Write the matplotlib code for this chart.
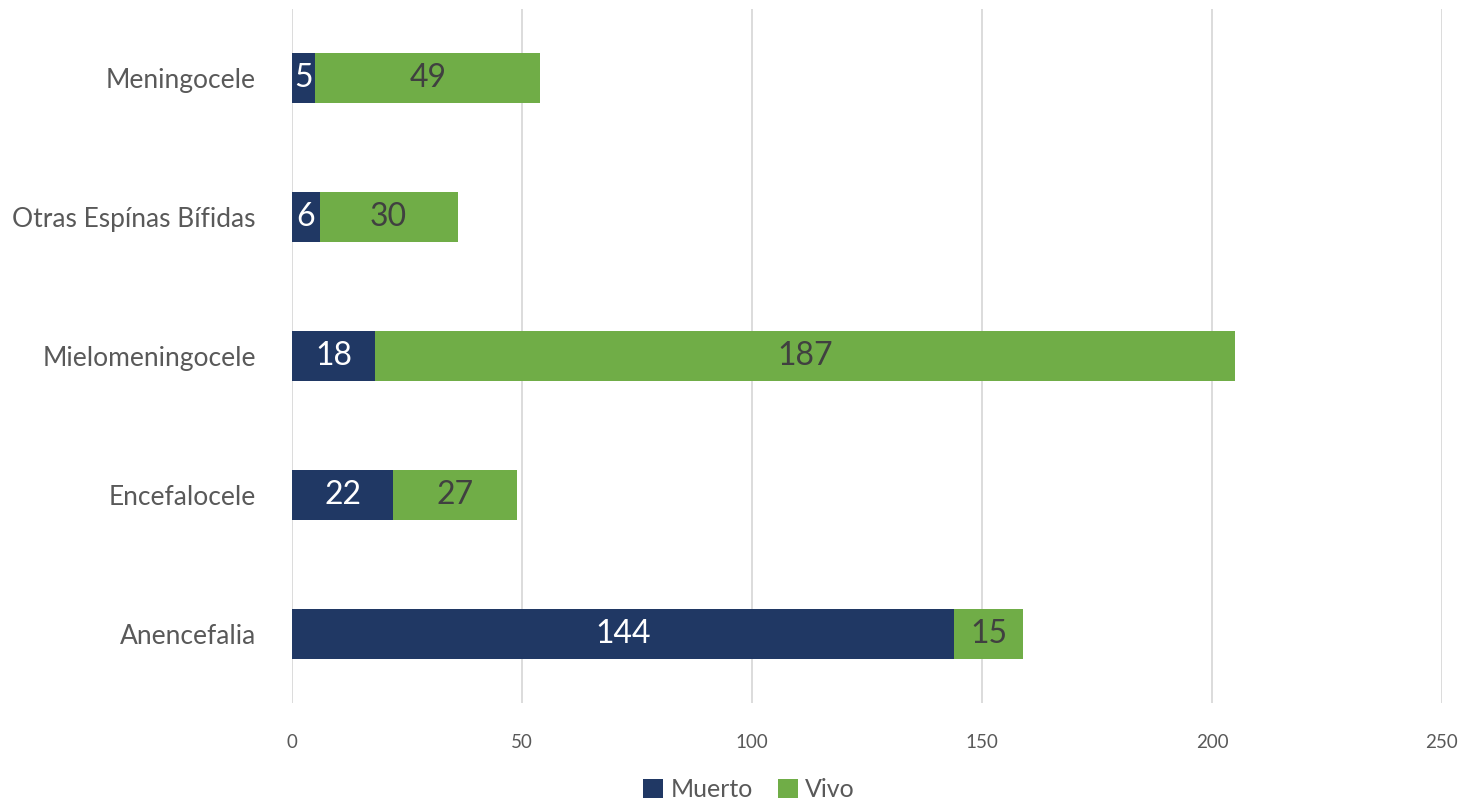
import matplotlib
matplotlib.use("Agg")
import matplotlib.pyplot as plt

categories = ["Anencefalia", "Encefalocele", "Mielomeningocele", "Otras Espínas Bífidas", "Meningocele"]
muerto = [144, 22, 18, 6, 5]
vivo = [15, 27, 187, 30, 49]
xticks = [0, 50, 100, 150, 200, 250]

plt.rcParams['font.family'] = ['Lato', 'DejaVu Sans']

fig = plt.figure(figsize=(14.63, 8.02), dpi=100)
ax = fig.add_axes([0.1996, 0.123, 0.786, 0.866])

c_m = "#203864"
c_v = "#70AD47"
y = list(range(len(categories)))
h = 0.36
b1 = ax.barh(y, muerto, height=h, color=c_m, label="Muerto")
b2 = ax.barh(y, vivo, left=muerto, height=h, color=c_v, label="Vivo")

for rect, v in zip(b1, muerto):
    ax.text(rect.get_x() + rect.get_width() / 2, rect.get_y() + rect.get_height() / 2, str(v),
            ha="center", va="center", color="white", fontsize=23)
for rect, v in zip(b2, vivo):
    ax.text(rect.get_x() + rect.get_width() / 2, rect.get_y() + rect.get_height() / 2, str(v),
            ha="center", va="center", color="#404040", fontsize=23)

ax.set_xlim(0, 250)
ax.set_ylim(-0.5, len(categories) - 0.5)
ax.set_xticks(xticks)
ax.set_xticklabels([str(t) for t in xticks], fontsize=13.5, color="#595959")
ax.set_yticks(y)
ax.set_yticklabels(categories, fontsize=19, color="#595959")
ax.tick_params(axis="both", length=0)
ax.tick_params(axis="x", pad=22)
ax.tick_params(axis="y", pad=26)
ax.xaxis.grid(True, color="#D9D9D9", linewidth=1.3)
ax.set_axisbelow(True)
for s in ax.spines.values():
    s.set_visible(False)

fig.legend(handles=[b1, b2], labels=["Muerto", "Vivo"], loc="center", bbox_to_anchor=(0.512, 0.015),
           ncol=2, frameon=False, fontsize=18, labelcolor="#595959", handlelength=0.8, handleheight=0.8,
           handletextpad=0.3, columnspacing=1.0)

fig.savefig("out.png", dpi=100)
